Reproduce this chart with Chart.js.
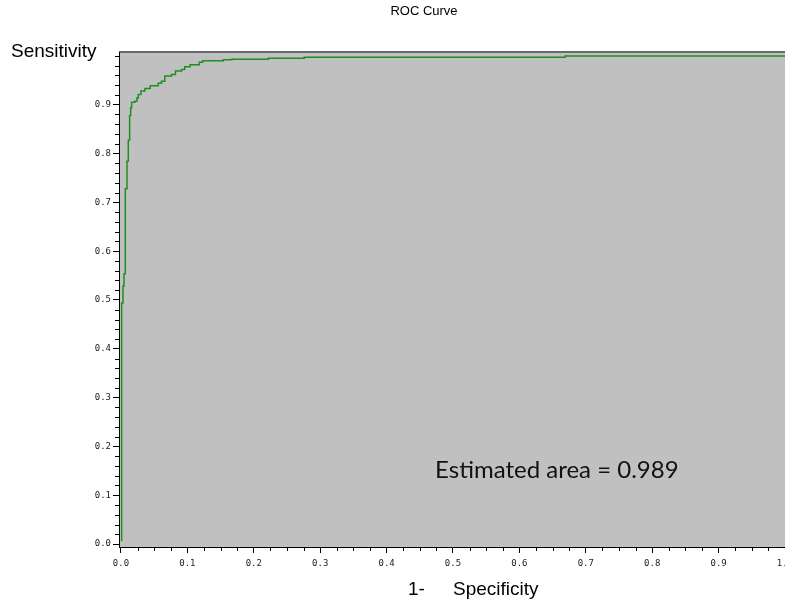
<!DOCTYPE html>
<html>
<head>
<meta charset="utf-8">
<title>ROC Curve</title>
<script src="https://cdn.jsdelivr.net/npm/chart.js@4.4.1/dist/chart.umd.min.js"></script>
<style>
  html, body { margin: 0; padding: 0; background: #fff; }
  #wrap { position: relative; width: 785px; height: 599px; }
</style>
</head>
<body>
<div id="wrap"><canvas id="rocChart"></canvas></div>
<script>
// ROC points (1 - specificity, sensitivity)
const fpr = [0.001, 0.003, 0.0045, 0.0065, 0.009, 0.011, 0.013, 0.0146, 0.016, 0.021,
    0.024, 0.026, 0.030, 0.036, 0.044, 0.056, 0.061, 0.066, 0.076, 0.082,
    0.091, 0.096, 0.104, 0.118, 0.123, 0.154, 0.167, 0.222, 0.276, 0.669, 1.0];
const tpr = [0.006, 0.494, 0.528, 0.554, 0.728, 0.784, 0.827, 0.878, 0.894, 0.905,
    0.907, 0.914, 0.921, 0.928, 0.933, 0.939, 0.944, 0.948, 0.959, 0.962,
    0.969, 0.972, 0.978, 0.982, 0.987, 0.990, 0.992, 0.993, 0.995, 0.997, 1.0];

// axis ticks
const xTicks = [0.0, 0.1, 0.2, 0.3, 0.4, 0.5, 0.6, 0.7, 0.8, 0.9, 1.0];
const yTicks = [0.0, 0.1, 0.2, 0.3, 0.4, 0.5, 0.6, 0.7, 0.8, 0.9];

const chartTitle = 'ROC Curve';
const areaText = 'Estimated area = 0.989';

// gray plot background + dark frame on top
const plotBackground = {
    id: 'plotBackground',
    beforeDraw(chart) {
        const { ctx, chartArea: a } = chart;
        ctx.save();
        ctx.fillStyle = '#c0c0c0';
        ctx.fillRect(a.left, a.top, a.right - a.left, a.bottom - a.top);
        ctx.fillStyle = '#6a6a6a';
        ctx.fillRect(a.left, a.top - 1, a.right - a.left, 2);
        ctx.restore();
    }
};

// minor tick marks on both axes
const minorTicks = {
    id: 'minorTicks',
    afterDraw(chart) {
        const { ctx, chartArea: a } = chart;
        const xs = chart.scales.x, ys = chart.scales.y;
        ctx.save();
        ctx.strokeStyle = '#000';
        ctx.lineWidth = 1;
        ctx.beginPath();
        for (let i = 1; i < 40; i++) {
            if (i % 4 === 0) continue;
            const px = Math.round(xs.getPixelForValue(i * 0.025)) + 0.5;
            ctx.moveTo(px, a.bottom);
            ctx.lineTo(px, a.bottom + 4);
        }
        for (let i = 1; i <= 50; i++) {
            if (i % 5 === 0 && i < 50) continue;
            const py = Math.round(ys.getPixelForValue(i * 0.02)) + 0.5;
            ctx.moveTo(a.left - 4, py);
            ctx.lineTo(a.left, py);
        }
        ctx.stroke();
        ctx.restore();
    }
};

// title, axis captions and the area note
const captions = {
    id: 'captions',
    afterDraw(chart) {
        const { ctx } = chart;
        const xs = chart.scales.x, ys = chart.scales.y;
        ctx.save();
        ctx.fillStyle = '#000';
        ctx.textBaseline = 'middle';
        ctx.textAlign = 'center';
        ctx.font = '13px "Liberation Sans", Arial, sans-serif';
        ctx.fillText(chartTitle, 424, 11);
        ctx.textBaseline = 'alphabetic';
        ctx.textAlign = 'left';
        ctx.font = '19px "Liberation Sans", Arial, sans-serif';
        ctx.fillText('Sensitivity', 11, 57);
        ctx.fillText('1-', 408, 595);
        ctx.fillText('Specificity', 453, 595);
        ctx.fillStyle = '#111';
        ctx.font = '24px Lato, "Open Sans", sans-serif';
        ctx.textBaseline = 'middle';
        ctx.fillText(areaText, xs.getPixelForValue(0.473), ys.getPixelForValue(0.152));
        ctx.restore();
    }
};

const tickFont = { family: '"DejaVu Sans Mono", monospace', size: 9 };

new Chart(document.getElementById('rocChart'), {
    type: 'line',
    data: {
        datasets: [{
            label: 'ROC',
            data: fpr.map((v, i) => ({ x: v, y: tpr[i] })),
            borderColor: '#1f8f1f',
            borderWidth: 1.5,
            stepped: 'after',
            pointRadius: 0,
            fill: false
        }]
    },
    options: {
        responsive: true,
        maintainAspectRatio: false,
        animation: false,
        layout: { padding: { top: 52 } },
        plugins: {
            legend: { display: false },
            tooltip: { enabled: false },
            title: { display: false }
        },
        scales: {
            x: {
                type: 'linear',
                min: -0.003,
                max: 1.0,
                afterBuildTicks(scale) { scale.ticks = xTicks.map(v => ({ value: v })); },
                afterFit(scale) {
                    scale.height = 52;
                    scale.paddingLeft = 0;
                    scale.paddingRight = 0;
                },
                ticks: {
                    autoSkip: false,
                    maxRotation: 0,
                    padding: 5,
                    color: '#222',
                    font: tickFont,
                    callback: v => v.toFixed(1)
                },
                grid: { drawOnChartArea: false, tickLength: 6, color: '#000' },
                border: { color: '#000', width: 1 }
            },
            y: {
                type: 'linear',
                min: -0.006,
                max: 1.008,
                afterBuildTicks(scale) { scale.ticks = yTicks.map(v => ({ value: v })); },
                afterFit(scale) {
                    scale.width = 119;
                    scale.paddingTop = 0;
                    scale.paddingBottom = 0;
                },
                ticks: {
                    autoSkip: false,
                    padding: 2,
                    color: '#222',
                    font: tickFont,
                    callback: v => v.toFixed(1)
                },
                grid: { drawOnChartArea: false, tickLength: 6, color: '#000' },
                border: { color: '#000', width: 1 }
            }
        }
    },
    plugins: [plotBackground, minorTicks, captions]
});
</script>
</body>
</html>
